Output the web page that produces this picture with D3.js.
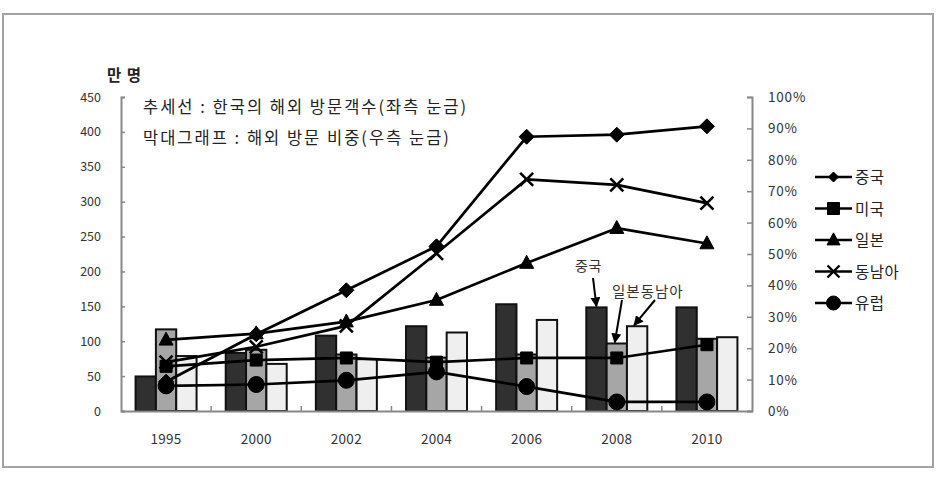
<!DOCTYPE html>
<html>
<head>
<meta charset="utf-8">
<script src="https://cdn.jsdelivr.net/npm/d3@7"></script>
<style>
  body { margin: 0; background: #fff; }
  svg text { font-family: "Noto Sans CJK KR", "Noto Sans", sans-serif; }
</style>
</head>
<body>
<svg id="chart"></svg>
<script>
// years on the x axis
const years = ['1995','2000','2002','2004','2006','2008','2010'];

// bar data : share of visits (right axis, %)
const barChina = [11, 18.5, 24, 27, 34, 33, 33];
const barJapan = [26, 19.5, 18, 17, 18, 21.5, 23];
const barSea   = [17.5, 15, 16.5, 25, 29, 27, 23.5];

// line data : visitors in 만 명 (left axis)
const lineChina  = [42, 110, 173, 236, 393, 396, 408];
const lineUsa    = [64, 73, 76, 70, 76, 76, 95];
const lineJapan  = [102, 111, 128, 159, 212, 262, 240];
const lineSea    = [70, 92, 122, 226, 332, 324, 298];
const lineEurope = [36, 38, 44, 56, 35, 13, 13];

const leftTicks = [0,50,100,150,200,250,300,350,400,450];
const rightTicks = [0,10,20,30,40,50,60,70,80,90,100];

const width = 939, height = 477;
const plot = { left: 121, right: 752, top: 97, bottom: 411 };

const svg = d3.select('#chart').attr('width', width).attr('height', height);

// outer frame
svg.append('rect')
   .attr('x', 3).attr('y', 14)
   .attr('width', 930).attr('height', 453)
   .attr('fill', '#fff')
   .attr('stroke', '#a3a3a3')
   .attr('stroke-width', 2);

const x = d3.scaleBand().domain(years).range([plot.left, plot.right]).padding(0);
const xInner = d3.scaleBand().domain(['china','japan','sea']).range([0, 61]).padding(0);
const yLeft = d3.scaleLinear().domain([0, 450]).range([plot.bottom, plot.top]);
const yRight = d3.scaleLinear().domain([0, 100]).range([plot.bottom, plot.top]);

const groupOffset = (x.bandwidth() - 61) / 2;

// bars
const barSeries = [
  { key: 'china', values: barChina, fill: '#303030' },
  { key: 'japan', values: barJapan, fill: '#a6a6a6' },
  { key: 'sea',   values: barSea,   fill: '#efefef' }
];
barSeries.forEach(s => {
  svg.append('g').selectAll('rect')
     .data(s.values)
     .enter()
     .append('rect')
     .attr('x', (d,i) => x(years[i]) + groupOffset + xInner(s.key))
     .attr('y', d => yRight(d))
     .attr('width', xInner.bandwidth())
     .attr('height', d => yRight(0) - yRight(d))
     .attr('fill', s.fill)
     .attr('stroke', '#111')
     .attr('stroke-width', 2);
});

// axes
const axisColor = '#888';
const leftAxis = svg.append('g')
   .attr('transform', `translate(${plot.left},0)`)
   .call(d3.axisRight(yLeft).tickValues(leftTicks).tickSize(4).tickFormat(''));
const rightAxis = svg.append('g')
   .attr('transform', `translate(${plot.right},0)`)
   .call(d3.axisLeft(yRight).tickValues(rightTicks).tickSize(5).tickFormat(''));
const bottomAxis = svg.append('g')
   .attr('transform', `translate(0,${plot.bottom})`)
   .call(d3.axisTop(x).tickSize(0).tickFormat(''));
[leftAxis, rightAxis, bottomAxis].forEach(g => {
  g.selectAll('path').attr('stroke', axisColor).attr('stroke-width', 2);
  g.selectAll('line').attr('stroke', axisColor).attr('stroke-width', 1.5);
});
// small category separators on the x axis
svg.append('g').selectAll('line')
   .data(years.slice(1))
   .enter()
   .append('line')
   .attr('x1', d => x(d)).attr('x2', d => x(d))
   .attr('y1', plot.bottom).attr('y2', plot.bottom - 5)
   .attr('stroke', axisColor).attr('stroke-width', 1.5);

// tick labels
svg.append('g').selectAll('text')
   .data(leftTicks)
   .enter()
   .append('text')
   .attr('x', 101)
   .attr('y', d => yLeft(d) + 4.5)
   .attr('text-anchor', 'end')
   .attr('font-size', 12.5)
   .attr('fill', '#333')
   .text(d => d);

svg.append('g').selectAll('text')
   .data(rightTicks)
   .enter()
   .append('text')
   .attr('x', 768)
   .attr('y', d => yRight(d) + 5)
   .attr('font-size', 13.5)
   .attr('letter-spacing', 0.8)
   .attr('fill', '#333')
   .text(d => d + '%');

svg.append('g').selectAll('text')
   .data(years)
   .enter()
   .append('text')
   .attr('x', d => x(d) + x.bandwidth()/2)
   .attr('y', 444)
   .attr('text-anchor', 'middle')
   .attr('font-size', 13.5)
   .attr('letter-spacing', 0.3)
   .attr('fill', '#333')
   .text(d => d);

svg.append('text')
   .attr('x', 107).attr('y', 81)
   .attr('font-size', 15.5)
   .attr('font-weight', 'bold')
   .attr('letter-spacing', 1)
   .attr('fill', '#222')
   .text('만 명');

svg.append('text')
   .attr('x', 143).attr('y', 113)
   .attr('font-size', 16.5)
   .attr('letter-spacing', 2)
   .attr('fill', '#222')
   .text('추세선 : 한국의 해외 방문객수(좌측 눈금)');
svg.append('text')
   .attr('x', 143).attr('y', 144)
   .attr('font-size', 16.5)
   .attr('letter-spacing', 2)
   .attr('fill', '#222')
   .text('막대그래프 : 해외 방문 비중(우측 눈금)');

// markers
function markerPath(type, s) {
  if (type === 'diamond') return `M0,${-s}L${s},0L0,${s}L${-s},0Z`;
  if (type === 'square') return `M${-s},${-s}H${s}V${s}H${-s}Z`;
  if (type === 'triangle') return `M0,${-s*1.1}L${s},${s*0.75}H${-s}Z`;
  if (type === 'x') return `M${-s},${-s}L${s},${s}M${s},${-s}L${-s},${s}`;
  return d3.arc()({innerRadius: 0, outerRadius: s, startAngle: 0, endAngle: 2*Math.PI});
}

const lineSeries = [
  { name: '중국',   values: lineChina,  marker: 'diamond',  size: 7.5, legendSize: 5 },
  { name: '미국',   values: lineUsa,    marker: 'square',   size: 6,   legendSize: 6 },
  { name: '일본',   values: lineJapan,  marker: 'triangle', size: 7,   legendSize: 6.5 },
  { name: '동남아', values: lineSea,    marker: 'x',        size: 6.5, legendSize: 6 },
  { name: '유럽',   values: lineEurope, marker: 'circle',   size: 8,   legendSize: 7 }
];

const line = d3.line()
   .x((d,i) => x(years[i]) + x.bandwidth()/2)
   .y(d => yLeft(d));

lineSeries.forEach(s => {
  svg.append('path')
     .datum(s.values)
     .attr('fill', 'none')
     .attr('stroke', '#000')
     .attr('stroke-width', 2.7)
     .attr('stroke-linejoin', 'round')
     .attr('d', line);
  svg.append('g').selectAll('path')
     .data(s.values)
     .enter()
     .append('path')
     .attr('transform', (d,i) => `translate(${x(years[i]) + x.bandwidth()/2},${yLeft(d)})`)
     .attr('d', markerPath(s.marker, s.size))
     .attr('fill', '#000')
     .attr('stroke', '#000')
     .attr('stroke-width', s.marker === 'x' ? 2.6 : 1);
});

// legend
const legend = svg.append('g').selectAll('g')
   .data(lineSeries)
   .enter()
   .append('g')
   .attr('transform', (d,i) => `translate(815,${177 + i*31.5})`);
legend.append('line')
   .attr('x1', 0).attr('x2', 37)
   .attr('stroke', '#000').attr('stroke-width', 2.7);
legend.append('path')
   .attr('transform', 'translate(18.5,0)')
   .attr('d', d => markerPath(d.marker, d.legendSize))
   .attr('fill', '#000')
   .attr('stroke', '#000')
   .attr('stroke-width', d => d.marker === 'x' ? 2.4 : 1);
legend.append('text')
   .attr('x', 40).attr('y', 6)
   .attr('font-size', 15.5)
   .attr('letter-spacing', 0.5)
   .attr('fill', '#222')
   .text(d => d.name);

// arrow annotations pointing at 2008 bars
svg.append('defs').append('marker')
   .attr('id', 'arrowhead')
   .attr('viewBox', '0 0 10 10')
   .attr('refX', 9).attr('refY', 5)
   .attr('markerWidth', 5).attr('markerHeight', 5)
   .attr('orient', 'auto')
   .append('path')
   .attr('d', 'M0,0L10,5L0,10Z')
   .attr('fill', '#000');

const bx = key => x('2008') + groupOffset + xInner(key) + xInner.bandwidth()/2;
const by = (arr) => yRight(arr[years.indexOf('2008')]);

svg.append('text')
   .attr('x', 575).attr('y', 271)
   .attr('font-size', 14)
   .attr('letter-spacing', 0.5)
   .attr('fill', '#333')
   .text('중국');
svg.append('text')
   .attr('x', 612).attr('y', 297)
   .attr('font-size', 14.5)
   .attr('letter-spacing', 1)
   .attr('fill', '#333')
   .text('일본동남아');

const arrows = [
  { x1: 593, y1: 278, x2: bx('china'), y2: by(barChina) - 1 },
  { x1: 622, y1: 300, x2: bx('japan') - 2, y2: by(barJapan) - 1 },
  { x1: 655, y1: 300, x2: bx('sea') - 3, y2: by(barSea) - 1 }
];
svg.append('g').selectAll('line')
   .data(arrows)
   .enter()
   .append('line')
   .attr('x1', d => d.x1).attr('y1', d => d.y1)
   .attr('x2', d => d.x2).attr('y2', d => d.y2)
   .attr('stroke', '#000')
   .attr('stroke-width', 2)
   .attr('marker-end', 'url(#arrowhead)');
</script>
</body>
</html>
